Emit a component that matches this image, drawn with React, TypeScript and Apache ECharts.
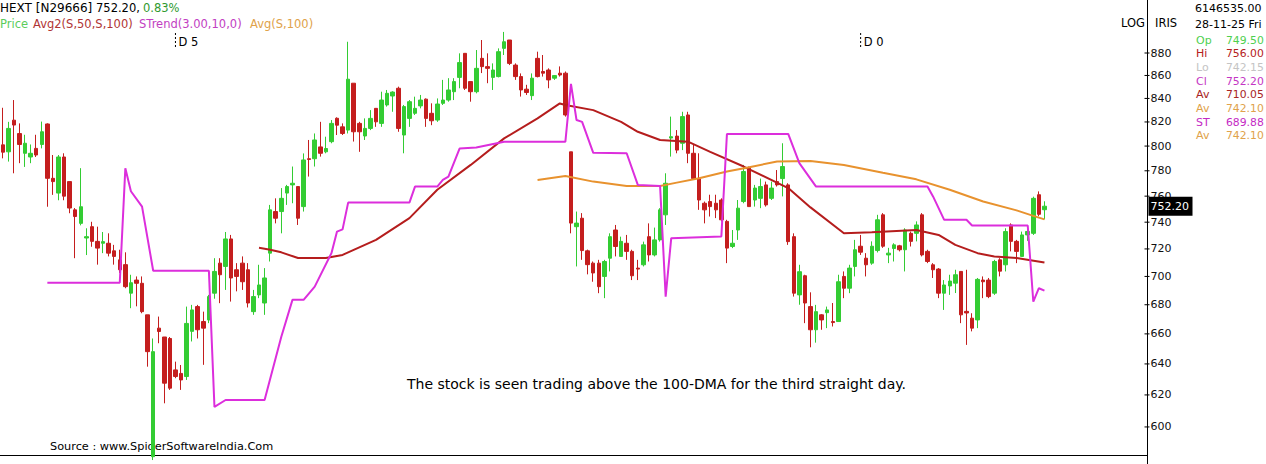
import React, { useEffect, useRef } from 'react';
import * as echarts from 'echarts';

const FONT = "'DejaVu Sans', Verdana, sans-serif";

// Daily sessions: [open, close, low, high]
const SESSIONS: number[][] = [
  [801, 795, 790, 832], [795.3, 814.6, 787.4, 820.1], [821.5, 817.4, 778, 838.6], [810.3, 801.3, 786.1, 818.8],
  [794.1, 802.3, 783.1, 809.3], [791.1, 794.1, 786.1, 801.3], [798.1, 792.7, 791.1, 809.3], [801.3, 811.8, 798.1, 820.3],
  [818.3, 774, 751.8, 818.8], [774, 771.4, 761, 792.7], [762.4, 791.1, 756.8, 792.7], [791.1, 760, 756.8, 794.1],
  [771.4, 750.8, 746.8, 771.4], [749.4, 744.3, 713.2, 750.8], [739.1, 751.8, 737.6, 782.1], [728.1, 729.1, 715.5, 735.4],
  [736.6, 725.6, 721.6, 740.3], [725.6, 720.6, 708.5, 736.6], [724.2, 725.4, 716.9, 732.6], [724.2, 716.9, 714.5, 731.6],
  [718.6, 714.5, 708.5, 723], [712, 704.8, 702.5, 719.4], [708.5, 692.7, 691.6, 717.5], [688.1, 695.5, 677.6, 701.2],
  [697.4, 695.1, 678.9, 700], [695.1, 675.2, 674.1, 700], [673, 648.1, 638.2, 673], [582, 648.1, 580, 656.9],
  [663.9, 661.6, 653.7, 671.8], [657.9, 627.5, 614.7, 657.9], [656.9, 624.3, 623.2, 657.9], [636.1, 631.8, 630.7, 641.5],
  [633.8, 629.6, 623.2, 639.3], [631.8, 667.1, 629.6, 678.7], [661.7, 676.4, 654.9, 679.9], [678.7, 662.8, 656.9, 679.9],
  [668.4, 663.9, 639.4, 675.2], [669.5, 685.7, 667.3, 686.9], [688.1, 703.6, 684.2, 713.2], [709.6, 701.2, 681.1, 713.2],
  [707.2, 727.4, 690.4, 732.6], [727.4, 698.9, 682.2, 730.4], [704.8, 700, 689.4, 709.6], [709.6, 696.2, 690.4, 714.5],
  [704.8, 681.2, 678.1, 709.6], [675.2, 685.7, 673, 690.4], [686.9, 693.9, 684.6, 708.4], [681.2, 698.9, 673, 706],
  [716.9, 749.4, 710.8, 753.2], [748.1, 743, 739.1, 758.3], [748.1, 758.3, 731.6, 766.3], [762.4, 767.5, 753.2, 768.8],
  [768.8, 770.1, 754.5, 783.4], [767.5, 743, 737.9, 767.5], [751.9, 788.7, 748.1, 794], [789.7, 789.1, 775.4, 805],
  [789.7, 805, 783.4, 810.4], [799.3, 794.1, 791.4, 820.1], [795.3, 798, 794.1, 807.7], [803.6, 818.8, 802.3, 821.6],
  [823.1, 817.3, 809.1, 823.9], [815.9, 810.4, 809.1, 818.8], [813.2, 856.7, 810.4, 890.2], [853.2, 811.8, 803.7, 853.2],
  [818.8, 811.8, 795.3, 820.1], [808.3, 814.6, 805, 823], [814.6, 823, 813.2, 830], [831.5, 820.1, 815.9, 831.5],
  [818.8, 838.6, 815.9, 845.8], [834.4, 844.4, 833, 847.3], [842.1, 845.5, 828.6, 846.2], [848.8, 814.6, 811.8, 850.2],
  [809.1, 833, 794.1, 834.4], [823, 837.2, 815.9, 838.6], [827.3, 831.5, 825.9, 841.5], [833.6, 838.6, 831.5, 843],
  [839.4, 823, 815.9, 840], [827.3, 821, 817.3, 835.8], [821.6, 835.2, 820.1, 840], [835.8, 838.6, 834.4, 856.1],
  [838.6, 847.3, 837.2, 857.6], [845.8, 854.6, 838.6, 857.6], [858.3, 871.4, 848.8, 879.7], [879.7, 848.8, 847.3, 879.7],
  [854.6, 845.8, 837.2, 854.6], [845.8, 866.3, 844.4, 882.7], [875.2, 867.8, 862.1, 891.8], [867.8, 866.3, 853.2, 879.7],
  [858.3, 864.8, 847.3, 870.7], [859, 881.2, 858.3, 884.2], [884.2, 890.2, 878.2, 899.2], [891.8, 870.7, 869.2, 891.8],
  [869.2, 859, 856.1, 870.7], [859, 847.3, 841.6, 861.8], [848, 845.1, 843, 851.8], [842.4, 857.6, 838.6, 861.8],
  [875.2, 859, 858.3, 881.2], [863.5, 862, 859, 878.2], [864.8, 856.1, 848.8, 866.3], [857.6, 859.9, 856.1, 860.4],
  [862, 860.4, 859, 868], [862, 825.9, 824.5, 863.5], [795.3, 739.3, 731.6, 795.3], [736.6, 739.3, 707.2, 748.1],
  [743, 718.8, 712, 746.9], [718.6, 708.5, 701.5, 719.5], [709.6, 702.5, 696.2, 710.8], [709.6, 692.7, 688.1, 712],
  [700, 710.8, 684.6, 712], [713.2, 729.1, 703.6, 731.6], [734.1, 721.8, 714.5, 737.9], [714.5, 725.6, 714.5, 729.1],
  [724.2, 718.2, 712, 730.4], [718.2, 700.5, 697.4, 719.4], [706, 705.3, 697.4, 712], [708.4, 723, 707.2, 725.4],
  [729.1, 715.6, 710.8, 739.1], [715.6, 726.7, 714.5, 735.9], [726.7, 749.4, 725.4, 750.7], [745.6, 770.1, 737.9, 778],
  [806.6, 807.7, 791.4, 824.5], [808.2, 796.7, 794.1, 813.2], [802.3, 824.5, 796.7, 828.6], [825.9, 794.1, 786.1, 828.6],
  [794.1, 773.8, 772.7, 800.9], [773.8, 757, 749.4, 794.1], [754.5, 749.4, 739.1, 755.8], [755.8, 751.9, 744.3, 761.1],
  [754.5, 749.4, 743.1, 761.1], [757, 741.8, 740.6, 758.3], [740.6, 720.6, 709.6, 741.8], [721.8, 724.2, 720.6, 734.1],
  [734.1, 750.7, 726.7, 757], [755.8, 779.4, 754.5, 784.7], [782.1, 751.9, 751.9, 783.4], [757, 766.3, 751.9, 768.8],
  [758.3, 767.5, 750.7, 773.8], [768.8, 753.2, 751.9, 771.4], [758.3, 766.3, 757, 771.4], [771.4, 768.8, 767.5, 780.6],
  [773.8, 783.4, 759.8, 802.3], [768.8, 725.4, 723, 770.1], [729.1, 688.1, 685.7, 731.6], [686.9, 703.4, 680, 708.4],
  [700.5, 681.2, 667.3, 701.2], [678.7, 662.8, 651, 688.7], [662.8, 675.2, 654.1, 679.9], [673, 669.5, 662.8, 673.5],
  [674.5, 676.4, 663.9, 678.7], [668.4, 667.7, 665, 681.2], [668.4, 696.2, 668.4, 701.2], [700, 691.6, 684.6, 703.6],
  [691.6, 706, 688.1, 708.4], [707.2, 719.4, 700, 726.7], [722, 717.6, 715.6, 730.4], [713.2, 708.4, 700, 716.9],
  [709.6, 722, 708.4, 725.6], [718.8, 741.8, 717.4, 745.6], [745.6, 722, 720.8, 746.9], [715.6, 716.9, 709.6, 720.8],
  [720.3, 723, 710.8, 724.2], [722.3, 719.4, 718.2, 723], [719.4, 734.1, 703.6, 735.4], [731.6, 725.6, 721.8, 732.9],
  [731.6, 737.9, 725.6, 740.6], [745.6, 715.6, 714.5, 746.9], [718.2, 710.8, 709.6, 719.4], [708.4, 704.8, 698.9, 709.6],
  [705.3, 688.1, 684.6, 706], [688.1, 693.9, 676.4, 697.4], [693.2, 696.7, 686.9, 701.2], [695.2, 701.2, 688.2, 704.8],
  [703.6, 673, 667.3, 703.6], [675.4, 674.3, 652.6, 704.8], [670.7, 663.9, 661.7, 674.1], [669.5, 697.9, 663.9, 698.9],
  [697.4, 696.2, 684.6, 700], [697.4, 685.7, 684.6, 698.9], [688.1, 710.8, 686.9, 712], [712, 703.8, 700, 713.2],
  [708.4, 732.9, 703.6, 735.4], [737.9, 725.6, 718.2, 739.1], [725.6, 718.2, 709.6, 726.7], [714.5, 730.4, 714.5, 732.9],
  [730.4, 733, 726, 735], [731.6, 758.3, 730.4, 759.6], [761.1, 746, 744.5, 763.7], [749.5, 752.2, 742.15, 756],
];

// Indicator readings: [session index, value]
const AVG2_50: number[][] = [
  [46, 720.8], [48, 719.4], [50, 717.5], [53, 713.3], [58, 713.3], [61, 715.6], [67, 726.7], [73, 743.1],
  [78, 765], [84, 784.7], [90, 806.3], [96, 823], [100, 835.7], [101, 834.4], [106, 830], [111, 820.1],
  [114, 811.8], [118, 805], [123, 803.6], [127, 795.3], [133, 783.4], [141, 766.3], [145, 751.3], [151, 731.6],
  [156, 732.4], [164, 734.1], [168, 730.4], [171, 723], [175, 716.9], [178, 714.5], [182, 713.3], [187, 710.05],
];
const AVG_100: number[][] = [
  [96, 772.7], [101, 775.8], [106, 771.4], [112, 768], [118, 768], [121, 770.6], [125, 774], [130, 779.4],
  [134, 782.9], [139, 787.4], [145, 787.9], [151, 784.7], [158, 778.4], [164, 773.2], [170, 765], [176, 755.8],
  [182, 749], [185, 744.8], [187, 742.1],
];
const STREND: number[][] = [
  [8, 695.5], [21, 695.5], [22, 782], [23, 763.8], [25, 751.9], [27, 704.1], [37, 704.1], [38, 612.4],
  [40, 616.8], [47, 616.8], [50, 658.1], [52, 683.4], [54, 683.4], [56, 692.7], [59, 716.9], [60, 732.9],
  [61, 734.6], [62, 755], [73, 755], [74, 767.5], [78, 767.5], [79, 772.7], [80, 775.3], [82, 798],
  [85, 798.8], [90, 803.6], [101, 803.6], [102, 852.7], [103, 821.6], [104, 820.1], [106, 794.5], [112, 794.1],
  [114, 768.8], [118, 768], [119, 685.7], [120, 728], [129, 729.3], [130, 810], [141, 810], [143, 786.1],
  [146, 767.5], [166, 767.5], [167, 759.8], [169, 741.8], [173, 741.8], [174, 737.5], [184, 737.5], [185, 682.1],
  [186, 691.6], [187, 689.88],
];

const Y_TICKS = [600, 620, 640, 660, 680, 700, 720, 740, 760, 780, 800, 820, 840, 860, 880];
const EVENTS = [
  { idx: 31, label: 'D 5' },
  { idx: 154, label: 'D 0' },
];
const LAST_DATE = '2025-11-28';
const EMPTY_SLOTS = 18;

const PANEL = [
  { k: 'Op', v: '749.50', c: '#4fd04f' },
  { k: 'Hi', v: '756.00', c: '#b52020' },
  { k: 'Lo', v: '742.15', c: '#c4c4c4' },
  { k: 'Cl', v: '752.20', c: '#c435c4' },
  { k: 'Av', v: '710.05', c: '#a82424' },
  { k: 'Av', v: '742.10', c: '#e0a24a' },
  { k: 'ST', v: '689.88', c: '#c42ac4' },
  { k: 'Av', v: '742.10', c: '#e0a24a' },
];

const GREEN = '#33cc33';
const RED = '#c41e1e';

function tradingDays(end: string, n: number): string[] {
  const out: string[] = [];
  const d = new Date(end + 'T00:00:00Z');
  while (out.length < n) {
    const wd = d.getUTCDay();
    if (wd !== 0 && wd !== 6) out.unshift(d.toISOString().slice(0, 10));
    d.setUTCDate(d.getUTCDate() - 1);
  }
  return out;
}

function txt(x: number, y: number, text: string, fill: string, size = 11.5, extra: any = {}) {
  return {
    type: 'text',
    x,
    y,
    z: 1,
    silent: true,
    style: {
      text,
      fill,
      font: `${size}px ${FONT}`,
      verticalAlign: 'middle',
      textVerticalAlign: 'middle',
      align: 'left',
      textAlign: 'left',
      ...extra,
    },
  };
}

export default function App() {
  const ref = useRef<HTMLDivElement>(null);

  useEffect(() => {
    if (!ref.current) return;
    const chart = echarts.init(ref.current, undefined, { renderer: 'svg' });
    const categories = tradingDays(LAST_DATE, SESSIONS.length).concat(
      Array.from({ length: EMPTY_SLOTS }, () => '')
    );
    const lastIdx = SESSIONS.length - 1;
    const lastClose = SESSIONS[lastIdx][1];

    const renderYTicks = (params: any, api: any) => {
      const v = api.value(1);
      const pt = api.coord([0, v]);
      const cs = params.coordSys;
      const right = cs.x + cs.width;
      return {
        type: 'group',
        children: [
          { type: 'line', shape: { x1: right - 3, y1: pt[1], x2: right + 2, y2: pt[1] }, style: { stroke: '#000', lineWidth: 1 } },
          {
            type: 'text',
            x: right + 3,
            y: pt[1],
            style: { text: String(v), fill: '#111', font: `11px ${FONT}`, verticalAlign: 'middle', textVerticalAlign: 'middle', align: 'left', textAlign: 'left' },
          },
        ],
      };
    };

    const renderLastTag = (params: any, api: any) => {
      const v = api.value(1);
      const pt = api.coord([api.value(0), v]);
      const cs = params.coordSys;
      const right = cs.x + cs.width;
      return {
        type: 'group',
        children: [
          { type: 'rect', shape: { x: right + 1, y: pt[1] - 9.5, width: 44, height: 19 }, style: { fill: '#000' } },
          {
            type: 'text',
            x: right + 3,
            y: pt[1],
            style: { text: v.toFixed(2), fill: '#fff', font: `11px ${FONT}`, verticalAlign: 'middle', textVerticalAlign: 'middle', align: 'left', textAlign: 'left' },
          },
        ],
      };
    };

    const renderEvents = (params: any, api: any) => {
      const idx = api.value(0);
      const pt = api.coord([idx, 880]);
      const ev = EVENTS[params.dataIndex];
      return {
        type: 'group',
        children: [
          { type: 'line', shape: { x1: pt[0], y1: 33, x2: pt[0], y2: 49 }, style: { stroke: '#000', lineWidth: 1, lineDash: [2, 2] } },
          {
            type: 'text',
            x: pt[0] + 3,
            y: 42,
            style: { text: ev.label, fill: '#000', font: `11.5px ${FONT}`, verticalAlign: 'middle', textVerticalAlign: 'middle', align: 'left', textAlign: 'left' },
          },
        ],
      };
    };

    const graphic: any[] = [
      txt(0, 8, 'HEXT [N29666]', '#000', 12),
      txt(96, 8, '752.20,', '#000'),
      txt(143, 8, '0.83%', '#2f9a2f'),
      txt(0, 24, 'Price', '#5ccc5c'),
      txt(33, 24, 'Avg2(S,50,S,100)', '#b03434'),
      txt(139, 24, 'STrend(3.00,10,0)', '#c23ec2'),
      txt(250, 24, 'Avg(S,100)', '#e0a24a'),
      txt(1121, 23, 'LOG', '#000'),
      txt(1155, 23, 'IRIS', '#000'),
      txt(1195, 8, '6146535.00', '#000', 11),
      txt(1195, 24, '28-11-25 Fri', '#000', 11),
      txt(50, 446, 'Source : www.SpiderSoftwareIndia.Com', '#000', 11.3),
      txt(407, 384, 'The stock is seen trading above the 100-DMA for the third straight day.', '#000', 14),
      { type: 'line', silent: true, shape: { x1: 1147.5, y1: 455, x2: 1147.5, y2: 464 }, style: { stroke: '#000', lineWidth: 1 } },
    ];
    PANEL.forEach((p, i) => {
      const y = 40 + i * 13.7;
      graphic.push(txt(1196, y, p.k, p.c, 11));
      graphic.push(txt(1226, y, p.v, p.c, 10.8));
    });

    chart.setOption({
      animation: false,
      backgroundColor: '#ffffff',
      grid: { left: 0, right: 118.5, top: 0, bottom: 9, containLabel: false },
      xAxis: {
        type: 'category',
        data: categories,
        boundaryGap: true,
        axisLine: { show: true, lineStyle: { color: '#000', width: 1 } },
        axisTick: { show: false },
        axisLabel: { show: false },
        splitLine: { show: false },
      },
      yAxis: {
        type: 'log',
        logBase: 10,
        position: 'right',
        min: 583,
        max: 929.1,
        axisLine: { show: true, onZero: false, lineStyle: { color: '#000', width: 1 } },
        axisTick: { show: false },
        axisLabel: { show: false },
        splitLine: { show: false },
      },
      series: [
        {
          type: 'candlestick',
          data: SESSIONS,
          barWidth: 4,
          z: 3,
          itemStyle: { color: GREEN, color0: RED, borderColor: GREEN, borderColor0: RED, borderWidth: 1 },
        },
        {
          type: 'line',
          name: 'Avg2(S,50,S,100)',
          data: AVG2_50,
          symbol: 'none',
          z: 4,
          lineStyle: { color: '#b51d1d', width: 2 },
        },
        {
          type: 'line',
          name: 'Avg(S,100)',
          data: AVG_100,
          symbol: 'none',
          z: 4,
          lineStyle: { color: '#e8922e', width: 2 },
        },
        {
          type: 'line',
          name: 'STrend(3.00,10,0)',
          data: STREND,
          symbol: 'none',
          z: 5,
          lineStyle: { color: '#dc2edc', width: 2 },
        },
        { type: 'custom', data: Y_TICKS.map((v) => [0, v]), renderItem: renderYTicks, silent: true, z: 6 },
        { type: 'custom', data: [[lastIdx, lastClose]], renderItem: renderLastTag, silent: true, z: 7 },
        { type: 'custom', data: EVENTS.map((e) => [e.idx, 880]), renderItem: renderEvents, silent: true, z: 6 },
      ],
      graphic,
    });
    return () => chart.dispose();
  }, []);

  return <div ref={ref} style={{ position: 'absolute', left: 0, top: 0, width: 1266, height: 464 }} />;
}
